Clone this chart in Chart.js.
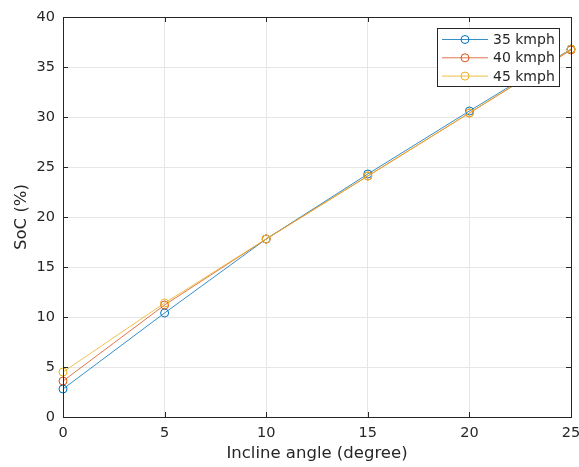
<!DOCTYPE html>
<html lang="en">

<head>
  <meta charset="UTF-8">
  <title>SoC vs incline angle</title>
  <script src="https://cdn.jsdelivr.net/npm/chart.js"></script>
  <style>
    html, body { margin: 0; padding: 0; background: #fff; }
    #wrap { width: 579px; height: 467px; }
  </style>
</head>

<body>
  <div id="wrap"><canvas id="socChart" width="579" height="467"></canvas></div>

  <script>
    const angles = [0, 5, 10, 15, 20, 25];
    const soc35 = [2.8, 10.4, 17.8, 24.3, 30.6, 36.8];
    const soc40 = [3.6, 11.2, 17.8, 24.1, 30.4, 36.7];
    const soc45 = [4.5, 11.4, 17.8, 24.1, 30.4, 36.8];
    const seriesLabels = ['35 kmph', '40 kmph', '45 kmph'];
    const seriesColors = ['#0072BD', '#D95319', '#EDB120'];

    const FONT = 'DejaVu Sans';
    const TXT = '#262626';

    function toPoints(ys) {
      return angles.map((x, i) => ({ x: x, y: ys[i] }));
    }

    // later series go on top, like matlab's plot order
    function makeSet(label, ys, color, order) {
      return {
        label: label,
        data: toPoints(ys),
        order: order,
        borderColor: color,
        backgroundColor: 'rgba(0,0,0,0)',
        borderWidth: 0.8,
        pointRadius: 4,
        pointBorderWidth: 1,
        pointBorderColor: color,
        pointBackgroundColor: 'rgba(0,0,0,0)',
        fill: false,
        tension: 0,
        clip: false,
      };
    }

    // box + inward ticks like matlab axes, plus line/marker legend
    const matlabAxes = {
      id: 'matlabAxes',
      afterDraw(chart) {
        const ctx = chart.ctx;
        const a = chart.chartArea;
        const xs = chart.scales.x, ys = chart.scales.y;
        ctx.save();
        ctx.strokeStyle = '#262626';
        ctx.lineWidth = 1;
        ctx.strokeRect(Math.round(a.left) + 0.5, Math.round(a.top) + 0.5,
          Math.round(a.right - a.left), Math.round(a.bottom - a.top));
        const len = 5;
        ctx.beginPath();
        xs.ticks.forEach(t => {
          const px = Math.round(xs.getPixelForValue(t.value)) + 0.5;
          ctx.moveTo(px, a.bottom); ctx.lineTo(px, a.bottom - len);
          ctx.moveTo(px, a.top); ctx.lineTo(px, a.top + len);
        });
        ys.ticks.forEach(t => {
          const py = Math.round(ys.getPixelForValue(t.value)) + 0.5;
          ctx.moveTo(a.left, py); ctx.lineTo(a.left + len, py);
          ctx.moveTo(a.right, py); ctx.lineTo(a.right - len, py);
        });
        ctx.stroke();

        // legend
        const bw = 122, bh = 58;
        const bx = a.right - 12 - bw, by = a.top + 11;
        ctx.fillStyle = '#fff';
        ctx.fillRect(bx, by, bw, bh);
        ctx.strokeStyle = '#262626';
        ctx.strokeRect(Math.round(bx) + 0.5, Math.round(by) + 0.5, bw, bh);
        ctx.font = '14px "' + FONT + '"';
        ctx.textBaseline = 'middle';
        const sets = chart.data.datasets;
        sets.forEach((ds, i) => {
          const cy = by + 11.5 + i * 18.3;
          ctx.strokeStyle = ds.borderColor;
          ctx.lineWidth = 0.8;
          ctx.beginPath();
          ctx.moveTo(bx + 5, cy); ctx.lineTo(bx + 51, cy);
          ctx.stroke();
          ctx.lineWidth = 1;
          ctx.beginPath();
          ctx.arc(bx + 28, cy, 4, 0, Math.PI * 2);
          ctx.stroke();
          ctx.fillStyle = TXT;
          ctx.fillText(ds.label, bx + 56, cy + 1);
        });
        ctx.restore();
      }
    };

    const socChart = new Chart(document.getElementById('socChart').getContext('2d'), {
      type: 'line',
      data: {
        datasets: [
          makeSet(seriesLabels[0], soc35, seriesColors[0], 3),
          makeSet(seriesLabels[1], soc40, seriesColors[1], 2),
          makeSet(seriesLabels[2], soc45, seriesColors[2], 1),
        ],
      },
      options: {
        responsive: false,
        animation: false,
        layout: { padding: { top: 17, right: 8, left: 0, bottom: 0 } },
        plugins: {
          legend: { display: false },
          tooltip: { enabled: false },
        },
        scales: {
          x: {
            type: 'linear',
            min: 0,
            max: 25,
            afterFit: (s) => { s.height = 50; s.paddingLeft = 0; s.paddingRight = 0; },
            ticks: { stepSize: 5, padding: 8, color: TXT, font: { family: FONT, size: 14.5 } },
            grid: { color: '#e6e6e6', drawTicks: false },
            border: { display: false },
            title: {
              display: true,
              text: 'Incline angle (degree)',
              color: TXT,
              font: { family: FONT, size: 16.5 },
              padding: { top: 0, bottom: 3 },
            },
          },
          y: {
            min: 0,
            max: 40,
            afterFit: (s) => { s.width = 63; s.paddingTop = 0; s.paddingBottom = 0; },
            ticks: { stepSize: 5, padding: 8, color: TXT, font: { family: FONT, size: 14.5 } },
            grid: { color: '#e6e6e6', drawTicks: false },
            border: { display: false },
            title: {
              display: true,
              text: 'SoC (%)',
              color: TXT,
              font: { family: FONT, size: 16.5 },
              padding: { top: 12, bottom: 0 },
            },
          },
        },
      },
      plugins: [matlabAxes],
    });
  </script>
</body>

</html>
